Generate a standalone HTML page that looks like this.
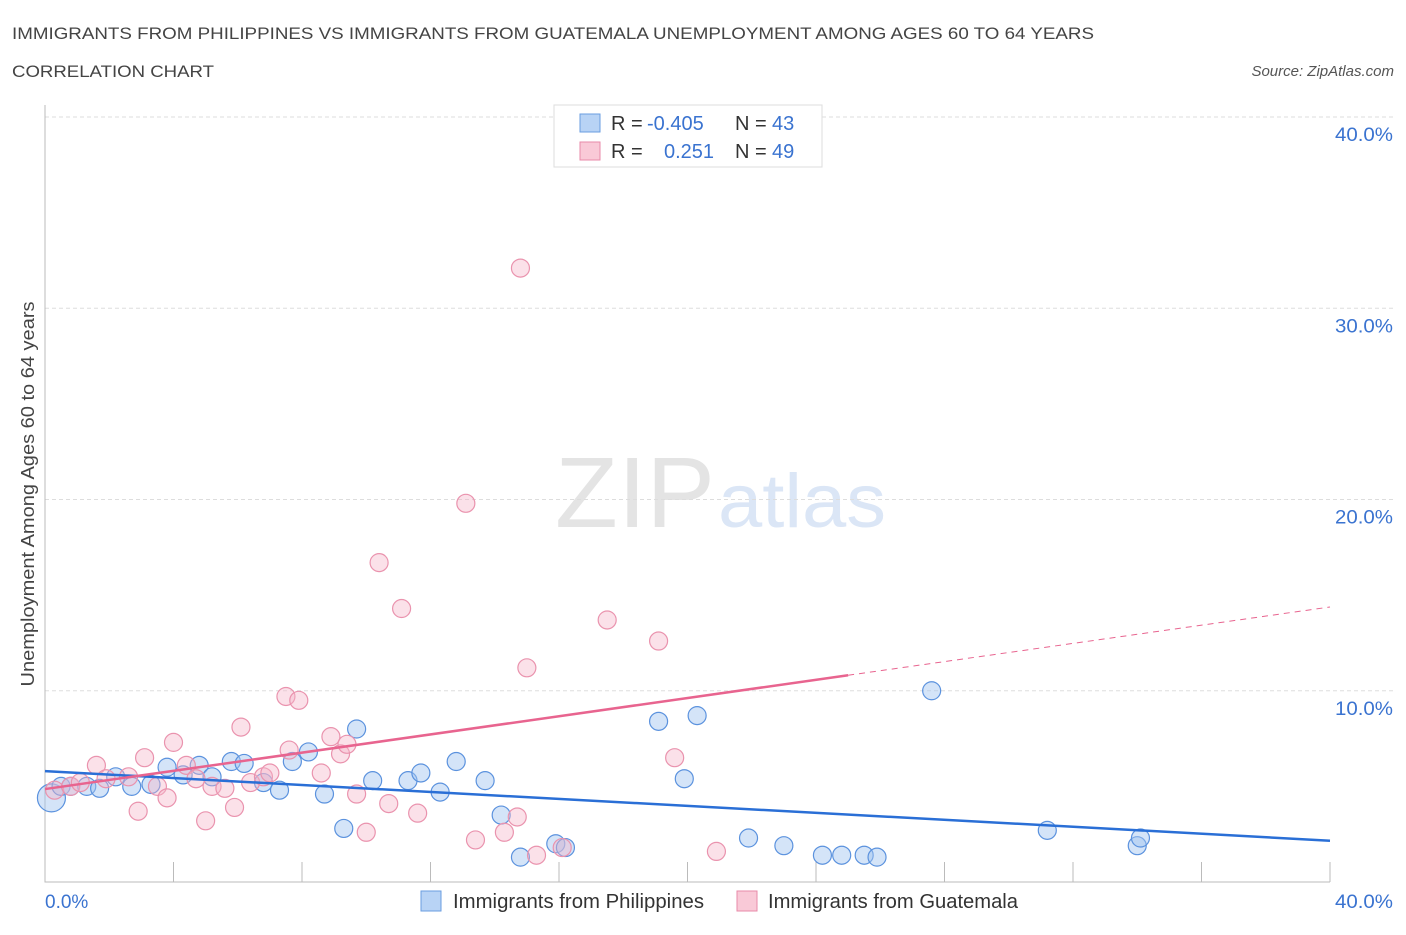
<!DOCTYPE html>
<html><head><meta charset="utf-8"><style>
body{margin:0;background:#fff;font-family:"Liberation Sans",sans-serif;}
svg text{font-family:"Liberation Sans",sans-serif;}
</style></head><body>
<svg id="c" width="1406" height="930" xmlns="http://www.w3.org/2000/svg">
<text x="12" y="39" font-size="17" fill="#444" textLength="1082" lengthAdjust="spacingAndGlyphs">IMMIGRANTS FROM PHILIPPINES VS IMMIGRANTS FROM GUATEMALA UNEMPLOYMENT AMONG AGES 60 TO 64 YEARS</text>
<text x="12" y="77" font-size="17" fill="#444" textLength="202" lengthAdjust="spacingAndGlyphs">CORRELATION CHART</text>
<text x="1394" y="76" font-size="15" fill="#555" font-style="italic" text-anchor="end">Source: ZipAtlas.com</text>
<text x="555" y="527" font-size="100" fill="#e4e4e4" textLength="160" lengthAdjust="spacingAndGlyphs" font-family="Liberation Serif">ZIP</text>
<text x="718" y="527" font-size="76" fill="#dbe6f6" textLength="168" lengthAdjust="spacingAndGlyphs">atlas</text>
<g id="grid"></g><g id="marks"></g>
<text x="34" y="494" font-size="18" fill="#444" transform="rotate(-90 34 494)" text-anchor="middle" textLength="385" lengthAdjust="spacingAndGlyphs">Unemployment Among Ages 60 to 64 years</text>
<text x="45" y="908" font-size="19" fill="#3a73d0">0.0%</text>
<text x="1393" y="908" font-size="19" fill="#3a73d0" text-anchor="end" textLength="58" lengthAdjust="spacingAndGlyphs">40.0%</text>
<g>
<rect x="554" y="105" width="268" height="62" fill="#fff" stroke="#ddd"/>
<rect x="580" y="114" width="20" height="18" fill="#b8d3f5" stroke="#6a9ee0"/>
<rect x="580" y="142" width="20" height="18" fill="#f9c9d7" stroke="#e88aa8"/>
<text x="611" y="130" font-size="20" fill="#333">R = <tspan x="647" fill="#3a73d0">-0.405</tspan><tspan x="735">N = </tspan><tspan x="772" fill="#3a73d0">43</tspan></text>
<text x="611" y="158" font-size="20" fill="#333">R = <tspan x="664" fill="#3a73d0">0.251</tspan><tspan x="735">N = </tspan><tspan x="772" fill="#3a73d0">49</tspan></text>
</g>
<g>
<rect x="421" y="891" width="20" height="20" fill="#b8d3f5" stroke="#6a9ee0"/>
<text x="453" y="908" font-size="20" fill="#333" textLength="251" lengthAdjust="spacingAndGlyphs">Immigrants from Philippines</text>
<rect x="737" y="891" width="20" height="20" fill="#f9c9d7" stroke="#e88aa8"/>
<text x="768" y="908" font-size="20" fill="#333" textLength="250" lengthAdjust="spacingAndGlyphs">Immigrants from Guatemala</text>
</g>
</svg>
<script>
const blueX=[0.2,0.5,0.8,1.3,1.7,2.2,2.7,3.3,3.8,4.3,4.8,5.2,5.8,6.2,6.8,7.3,7.7,8.2,8.7,9.3,9.7,10.2,11.3,11.7,12.3,12.8,13.7,14.2,14.8,15.9,16.2,19.1,19.9,20.3,21.9,23.0,24.2,24.8,25.5,25.9,27.6,31.2,34.0,34.1];
const blueY=[4.4,5.0,5.0,5.0,4.9,5.5,5.0,5.1,6.0,5.6,6.1,5.5,6.3,6.2,5.2,4.8,6.3,6.8,4.6,2.8,8.0,5.3,5.3,5.7,4.7,6.3,5.3,3.5,1.3,2.0,1.8,8.4,5.4,8.7,2.3,1.9,1.4,1.4,1.4,1.3,10.0,2.7,1.9,2.3];
const pinkX=[0.3,0.8,1.1,1.6,1.9,2.6,2.9,3.1,3.5,3.8,4.0,4.4,4.7,5.0,5.2,5.6,5.9,6.1,6.4,6.8,7.0,7.5,7.6,7.9,8.6,8.9,9.2,9.4,9.7,10.0,10.4,10.7,11.1,11.6,13.1,13.4,14.3,14.7,14.8,15.0,15.3,16.1,17.5,19.1,19.6,20.9];
const pinkY=[4.8,5.0,5.2,6.1,5.4,5.5,3.7,6.5,5.0,4.4,7.3,6.1,5.4,3.2,5.0,4.9,3.9,8.1,5.2,5.5,5.7,9.7,6.9,9.5,5.7,7.6,6.7,7.2,4.6,2.6,16.7,4.1,14.3,3.6,19.8,2.2,2.6,3.4,32.1,11.2,1.4,1.8,13.7,12.6,6.5,1.6];
const blueTrend=[5.8,2.16];
const pinkTrend=[4.86,14.38];
const pinkSolidEnd=25.0;
const yTicks=[10,20,30,40];
const NS="http://www.w3.org/2000/svg";
const sx=v=>45+v*32.125, sy=v=>882-v*19.125;
const g=document.getElementById('grid'), m=document.getElementById('marks');
function el(t,a,p){const e=document.createElementNS(NS,t);for(const k in a)e.setAttribute(k,a[k]);p.appendChild(e);return e;}
yTicks.forEach(t=>{
 const l=el('line',{x1:45,x2:1394,y1:sy(t),y2:sy(t),stroke:'#ddd','stroke-dasharray':'4,3'},g);
 
 
 const tx=el('text',{x:1393,y:sy(t)+24,'font-size':19,fill:'#3a73d0','text-anchor':'end',textLength:58,lengthAdjust:'spacingAndGlyphs'},g);
 tx.textContent=t.toFixed(1)+'%';
 
 
});
const ax=el('path',{d:'M45 105V882H1330',stroke:'#bbb',fill:'none'},g);


for(let i=1;i<=10;i++){const t=el('line',{x1:sx(i*4),x2:sx(i*4),y1:862,y2:882,stroke:'#bbb'},g);
 
 }
blueX.forEach((x,i)=>{const c=el('circle',{cx:sx(x),cy:sy(blueY[i]),r:i==0?14:9,fill:'rgba(160,196,240,0.45)',stroke:'#5b92de','stroke-width':1.2},m);
 
 });
pinkX.forEach((x,i)=>{const c=el('circle',{cx:sx(x),cy:sy(pinkY[i]),r:9,fill:'rgba(246,180,200,0.4)',stroke:'#ea93ae','stroke-width':1.2},m);
 
 });
const bl=el('line',{x1:sx(0),y1:sy(blueTrend[0]),x2:sx(40),y2:sy(blueTrend[1]),stroke:'#2a6fd6','stroke-width':2.5},m);


const pe=pinkTrend[0]+(pinkTrend[1]-pinkTrend[0])*pinkSolidEnd/40;
const pl=el('line',{x1:sx(0),y1:sy(pinkTrend[0]),x2:sx(pinkSolidEnd),y2:sy(pe),stroke:'#e8648f','stroke-width':2.5},m);


const pd=el('line',{x1:sx(pinkSolidEnd),y1:sy(pe),x2:sx(40),y2:sy(pinkTrend[1]),stroke:'#e8648f','stroke-width':1,'stroke-dasharray':'6,5'},m);


</script>
</body></html>
